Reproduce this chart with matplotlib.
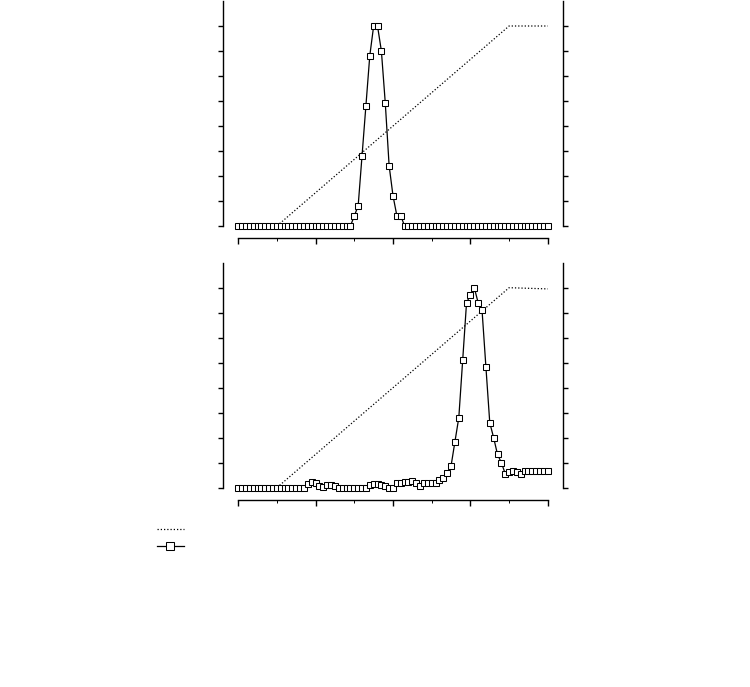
import matplotlib
matplotlib.use("Agg")
import matplotlib.pyplot as plt
from matplotlib.ticker import MultipleLocator

# ---- data ----
fractions = list(range(0, 81))

signal_top = ([0.0] * 30 +
              [0.40, 0.81, 2.81, 4.81, 6.81, 8.0, 8.0, 7.0, 4.93, 2.41, 1.21, 0.41, 0.41] +
              [0.0] * 38)

signal_bottom = ([0.0] * 18 +
                 [0.14, 0.23, 0.17, 0.08, 0.02, 0.11, 0.12, 0.07] +
                 [0.0] * 8 +
                 [0.11, 0.13, 0.13, 0.10, 0.06, 0.0, 0.0,
                  0.19, 0.19, 0.24, 0.24, 0.28, 0.17, 0.08, 0.19, 0.19, 0.19, 0.19,
                  0.29, 0.40, 0.59, 0.87, 1.84, 2.80, 5.09, 7.40, 7.71, 8.0, 7.40,
                  7.11, 4.84, 2.60, 2.0, 1.33, 1.0, 0.56, 0.61, 0.68, 0.61, 0.56,
                  0.68, 0.68, 0.68, 0.68, 0.68, 0.68, 0.68])

gradient_x_top = [0, 10, 70, 80]
gradient_y_top = [0, 0, 100, 100]
gradient_x_bottom = [0, 10, 70, 80]
gradient_y_bottom = [0, 0, 100, 99.4]

W, H = 750, 687
fig = plt.figure(figsize=(W / 100, H / 100), dpi=100)

left = 222.7 / W
width = (563.3 - 222.7) / W
axh = 225 / H
pos_top = [left, 1 - 226 / H, width, axh]
pos_bot = [left, 1 - 487.7 / H, width, axh]

dot_style = (0, (1, 1.6))


def make_panel(pos, sig, gx, gy):
    ax = fig.add_axes(pos)
    ax.set_xlim(-4, 84)
    ax.set_ylim(0, 9)
    ax.patch.set_alpha(0)
    ax.spines['top'].set_visible(False)
    ax.spines['right'].set_visible(False)
    ax.spines['bottom'].set_position(('outward', 8.5))
    ax.spines['bottom'].set_bounds(0, 80)
    for s in ('left', 'bottom'):
        ax.spines[s].set_linewidth(1.0)
    ax.spines['left'].set_bounds(0, 9)
    ax.xaxis.set_major_locator(MultipleLocator(20))
    ax.xaxis.set_minor_locator(MultipleLocator(10))
    ax.set_yticks(range(0, 9))
    ax.tick_params(axis='x', which='major', length=4.5, width=1.0, labelbottom=False)
    ax.tick_params(axis='x', which='minor', length=2, width=0.7)
    ax.tick_params(axis='y', length=3.5, width=1.0, labelleft=False)

    ax2 = ax.twinx()
    ax2.set_ylim(0, 112.5)
    ax2.set_yticks([12.5 * i for i in range(9)])
    for s in ('top', 'left', 'bottom'):
        ax2.spines[s].set_visible(False)
    ax2.spines['right'].set_linewidth(1.0)
    ax2.tick_params(axis='y', length=3.5, width=1.0, labelright=False)

    grad, = ax2.plot(gx, gy, color='black', lw=0.9, linestyle=dot_style, zorder=1)
    ax.set_zorder(ax2.get_zorder() + 1)
    sigl, = ax.plot(fractions, sig, color='black', lw=0.9, marker='s',
                    markersize=3.7, markerfacecolor='white', markeredgecolor='black',
                    markeredgewidth=0.75, clip_on=False, zorder=3)
    return grad, sigl


g1, s1 = make_panel(pos_top, signal_top, gradient_x_top, gradient_y_top)
g2, s2 = make_panel(pos_bot, signal_bottom, gradient_x_bottom, gradient_y_bottom)

fig.legend([g1, s1], ['', ''], loc='upper left',
           bbox_to_anchor=(157 / W, 1 - 525 / H), frameon=False,
           fontsize=8, handlelength=2.4, handletextpad=0.2,
           labelspacing=0.62, borderpad=0, borderaxespad=0, markerscale=1.4)

fig.savefig('out.png', dpi=100)
